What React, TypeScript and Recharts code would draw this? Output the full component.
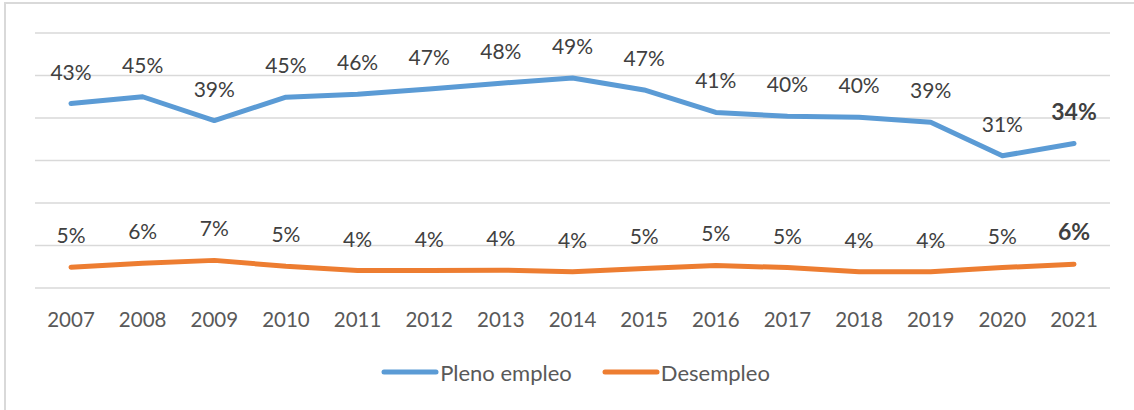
import { CartesianGrid, LabelList, Legend, Line, LineChart, XAxis, YAxis } from "recharts";

const years = ["2007", "2008", "2009", "2010", "2011", "2012", "2013", "2014", "2015", "2016", "2017", "2018", "2019", "2020", "2021"];
const plenoEmpleo = [43.4, 45.0, 39.4, 44.9, 45.6, 46.8, 48.2, 49.4, 46.6, 41.3, 40.4, 40.2, 39.0, 31.1, 34.0];
const desempleo = [4.9, 5.8, 6.5, 5.1, 4.1, 4.1, 4.2, 3.8, 4.6, 5.3, 4.8, 3.8, 3.8, 4.8, 5.6];
const yTicks = [0, 10, 20, 30, 40, 50, 60];

const data = years.map((year, i) => ({
  year,
  pleno: plenoEmpleo[i],
  desempleo: desempleo[i],
}));

const BLUE = "#5B9BD5";
const ORANGE = "#ED7D31";
const FONT = "Lato, 'Open Sans', sans-serif";

function PointLabel(props: any) {
  const { x, y, value, index } = props;
  const last = index === years.length - 1;
  return (
    <text
      x={x}
      y={y - 24}
      textAnchor="middle"
      fill="#404040"
      fontSize={last ? 23 : 21}
      fontWeight={last ? 700 : 400}
      fontFamily={FONT}
    >
      {Math.round(value)}%
    </text>
  );
}

function LegendContent() {
  const items = [
    { name: "Pleno empleo", color: BLUE },
    { name: "Desempleo", color: ORANGE },
  ];
  return (
    <div style={{ display: "flex", justifyContent: "center", height: 24, alignItems: "center", paddingLeft: 6 }}>
      {items.map((it, i) => (
        <div key={it.name} style={{ display: "flex", alignItems: "center", marginLeft: i ? 30 : 0 }}>
          <svg width={58} height={8}>
            <line x1={3} y1={4} x2={55} y2={4} stroke={it.color} strokeWidth={5} strokeLinecap="round" />
          </svg>
          <span style={{ fontFamily: FONT, fontSize: 22, color: "#595959", marginLeft: 1 }}>{it.name}</span>
        </div>
      ))}
    </div>
  );
}

export default function App() {
  return (
    <div style={{ position: "absolute", left: 0, top: 0, width: 1134, height: 410, overflow: "hidden", background: "#fff" }}>
      <div
        style={{
          position: "absolute",
          left: 4,
          top: 2,
          width: 1150,
          height: 430,
          border: "2px solid #D9D9D9",
          boxSizing: "border-box",
        }}
      />
      <div style={{ position: "absolute", left: 0, top: 0 }}>
        <LineChart width={1134} height={410} data={data} margin={{ top: 33, right: 24, bottom: 26, left: 35 }}>
          <CartesianGrid vertical={false} stroke="#D9D9D9" strokeWidth={1.5} />
          <XAxis
            dataKey="year"
            axisLine={false}
            tickLine={false}
            tickSize={0}
            tickMargin={24}
            interval={0}
            height={72}
            padding={{ left: 36, right: 36 }}
            tick={{ fill: "#595959", fontSize: 20.5, fontFamily: FONT }}
          />
          <YAxis hide domain={[0, 60]} ticks={yTicks} />
          <Legend verticalAlign="bottom" height={24} content={<LegendContent />} />
          <Line
            dataKey="pleno"
            name="Pleno empleo"
            stroke={BLUE}
            strokeWidth={5}
            strokeLinecap="round"
            strokeLinejoin="round"
            dot={false}
            activeDot={false}
            isAnimationActive={false}
          >
            <LabelList dataKey="pleno" content={<PointLabel />} />
          </Line>
          <Line
            dataKey="desempleo"
            name="Desempleo"
            stroke={ORANGE}
            strokeWidth={5}
            strokeLinecap="round"
            strokeLinejoin="round"
            dot={false}
            activeDot={false}
            isAnimationActive={false}
          >
            <LabelList dataKey="desempleo" content={<PointLabel />} />
          </Line>
        </LineChart>
      </div>
    </div>
  );
}
